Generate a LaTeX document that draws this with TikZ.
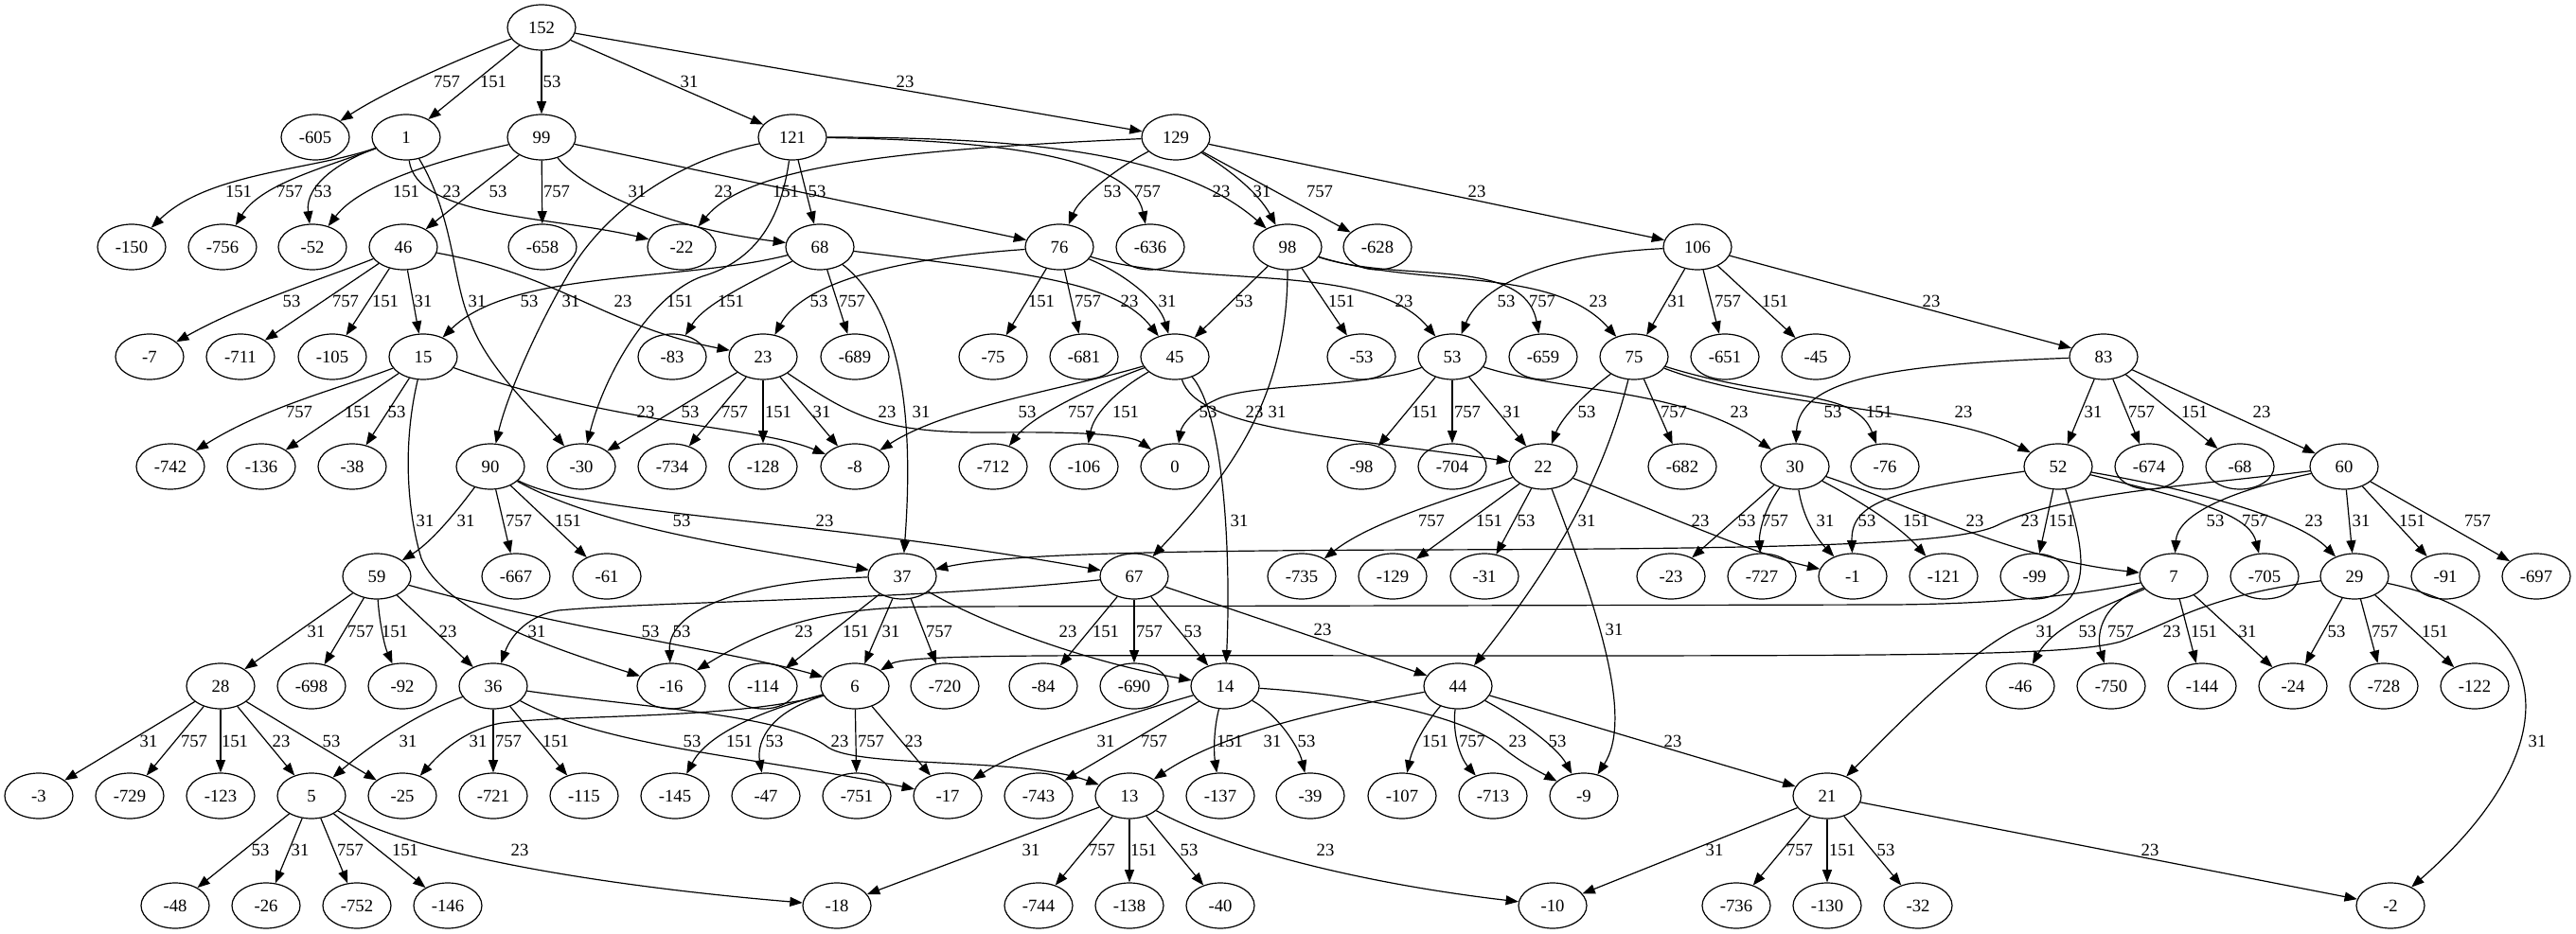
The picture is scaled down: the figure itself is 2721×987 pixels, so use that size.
\documentclass[tikz,border=0pt]{standalone}
\usepackage{fontspec}
\setmainfont{Liberation Serif}
\usetikzlibrary{arrows.meta,shapes.geometric}
\tikzset{
 nd/.style={ellipse,draw,line width=0.9pt,minimum width=54pt,minimum height=36pt,inner sep=0pt,font=\fontsize{14pt}{16pt}\selectfont},
 e/.style={draw,line width=0.9pt,-{Triangle[length=10pt,width=7.5pt]}},
 lbl/.style={inner sep=0pt,font=\fontsize{14pt}{16pt}\selectfont}
}
\newcommand\sedge[4]{\draw[e] (#1) -- (#2) node[lbl] at (#3) {#4};}
\newcommand\cedge[5]{\draw[e] (#1) .. controls #3 .. (#2) node[lbl] at (#4) {#5};}
\begin{document}
\begin{tikzpicture}[x=0.75pt,y=-0.75pt]
\fill[white] (0,0) rectangle (2721,987);
\useasboundingbox (0,0) rectangle (2721,987);
% rank 0
\node[nd] (n152) at (572,29) {152};
% rank 1
\foreach \nm/\tx/\xx in {m605/-605/333, n1/1/429, n99/99/572, n121/121/837, n129/129/1242}
  \node[nd] (\nm) at (\xx,145) {\tx};
% rank 2
\foreach \nm/\tx/\xx in {m150/-150/139, m756/-756/235, m52/-52/330, n46/46/426, m658/-658/573, m22/-22/720, n68/68/866, n76/76/1119, m636/-636/1215, n98/98/1360, m628/-628/1455, n106/106/1793}
  \node[nd] (\nm) at (\xx,261) {\tx};
% rank 3
\foreach \nm/\tx/\xx in {m7/-7/158, m711/-711/254, m105/-105/351, n15/15/447, m83/-83/710, n23/23/806, m689/-689/903, m75/-75/1049, m681/-681/1145, n45/45/1241, m53/-53/1438, n53/53/1534, m659/-659/1630, n75/75/1726, m651/-651/1822, m45/-45/1918, n83/83/2222}
  \node[nd] (\nm) at (\xx,377) {\tx};
% rank 4
\foreach \nm/\tx/\xx in {m742/-742/180, m136/-136/276, m38/-38/372, n90/90/518, m30/-30/614, m734/-734/710, m128/-128/806, m8/-8/903, m712/-712/1049, m106/-106/1145, n0/0/1241, m98/-98/1438, m704/-704/1534, n22/22/1630, m682/-682/1777, n30/30/1896, m76/-76/1991, n52/52/2174, m674/-674/2270, m68/-68/2366, n60/60/2476}
  \node[nd] (\nm) at (\xx,493) {\tx};
% rank 5
\foreach \nm/\tx/\xx in {n59/59/398, m667/-667/545, m61/-61/641, n37/37/953, n67/67/1198, m735/-735/1375, m129/-129/1471, m31/-31/1568, m23/-23/1765, m727/-727/1861, m1/-1/1957, m121/-121/2053, m99/-99/2149, n7/7/2296, m705/-705/2392, n29/29/2487, m91/-91/2583, m697/-697/2679}
  \node[nd] (\nm) at (\xx,609) {\tx};
% rank 6
\foreach \nm/\tx/\xx in {n28/28/233, m698/-698/329, m92/-92/425, n36/36/521, m16/-16/709, m114/-114/806, n6/6/903, m720/-720/998, m84/-84/1102, m690/-690/1198, n14/14/1294, n44/44/1540, m46/-46/2134, m750/-750/2230, m144/-144/2326, m24/-24/2422, m728/-728/2518, m122/-122/2614}
  \node[nd] (\nm) at (\xx,725) {\tx};
% rank 7
\foreach \nm/\tx/\xx in {m3/-3/41, m729/-729/137, m123/-123/233, n5/5/329, m25/-25/425, m721/-721/521, m115/-115/617, m145/-145/713, m47/-47/809, m751/-751/905, m17/-17/1001, m743/-743/1097, n13/13/1193, m137/-137/1289, m39/-39/1384, m107/-107/1481, m713/-713/1577, m9/-9/1673, n21/21/1930}
  \node[nd] (\nm) at (\xx,841) {\tx};
% rank 8
\foreach \nm/\tx/\xx in {m48/-48/185, m26/-26/281, m752/-752/377, m146/-146/473, m18/-18/884, m744/-744/1097, m138/-138/1193, m40/-40/1289, m10/-10/1640, m736/-736/1834, m130/-130/1930, m32/-32/2026, m2/-2/2525}
  \node[nd] (\nm) at (\xx,957) {\tx};

% ---- edges ----
% 152
\cedge{n152}{m605}{(490,60) and (410,95)}{472,86}{757}
\sedge{n152}{n1}{521,86}{151}
\sedge{n152}{n99}{583,86}{53}
\sedge{n152}{n121}{728,86}{31}
\sedge{n152}{n129}{956,86}{23}
% 1
\cedge{n1}{m150}{(330,180) and (220,182)}{252,202}{151}
\cedge{n1}{m756}{(340,178) and (275,195)}{306,202}{757}
\cedge{n1}{m52}{(360,170) and (322,195)}{341,202}{53}
\cedge{n1}{m22}{(440,230) and (580,228)}{477,202}{23}
\draw[e] (n1) .. controls (480,230) and (478,300) .. (497,340) .. controls (515,390) and (570,440) .. (m30) node[lbl] at (504,318) {31};
% 99
\cedge{n99}{m52}{(460,170) and (380,195)}{429,202}{151}
\sedge{n99}{n46}{526,202}{53}
\sedge{n99}{m658}{588,202}{757}
\cedge{n99}{n68}{(615,200) and (700,240)}{673,202}{31}
\sedge{n99}{n76}{764,202}{23}
% 121
\draw[e] (n121) .. controls (720,168) and (640,220) .. (600,290) .. controls (565,350) and (535,420) .. (n90) node[lbl] at (603,318) {31};
\sedge{n121}{n68}{863,202}{53}
\draw[e] (n121) .. controls (825,230) and (800,275) .. (742,292) .. controls (690,310) and (640,390) .. (m30) node[lbl] at (718,318) {151};
\cedge{n121}{m636}{(1050,148) and (1195,165)}{1212,202}{757}
\cedge{n121}{n98}{(1100,145) and (1250,165)}{1290,202}{23}
% 129
\cedge{n129}{m22}{(950,158) and (790,175)}{830,202}{151}
\cedge{n129}{n76}{(1175,180) and (1140,210)}{1175,202}{53}
\cedge{n129}{n98}{(1300,180) and (1330,205)}{1333,202}{31}
\sedge{n129}{m628}{1394,202}{757}
\sedge{n129}{n106}{1560,202}{23}
% 46
\cedge{n46}{m7}{(340,295) and (260,320)}{308,318}{53}
\sedge{n46}{m711}{365,318}{757}
\sedge{n46}{m105}{407,318}{151}
\sedge{n46}{n15}{447,318}{31}
\cedge{n46}{n23}{(590,290) and (640,345)}{658,318}{23}
% 68
\cedge{n68}{n15}{(720,298) and (540,285)}{559,318}{53}
\cedge{n68}{m83}{(800,295) and (745,320)}{772,318}{151}
\sedge{n68}{m689}{900,318}{757}
\cedge{n68}{n37}{(955,330) and (965,450)}{973,435}{31}
\cedge{n68}{n45}{(1100,290) and (1180,300)}{1193,318}{23}
% 76
\cedge{n76}{n23}{(960,272) and (850,295)}{865,318}{53}
\sedge{n76}{m75}{1100,318}{151}
\sedge{n76}{m681}{1149,318}{757}
\cedge{n76}{n45}{(1190,290) and (1225,320)}{1233,318}{31}
\cedge{n76}{n53}{(1260,305) and (1450,275)}{1483,318}{23}
% 98
\sedge{n98}{n45}{1314,318}{53}
\sedge{n98}{m53}{1417,318}{151}
\cedge{n98}{m659}{(1480,300) and (1610,270)}{1629,318}{757}
\cedge{n98}{n75}{(1500,305) and (1640,280)}{1688,318}{23}
\cedge{n98}{n67}{(1360,420) and (1300,500)}{1349,435}{31}
% 106
\cedge{n106}{n53}{(1640,268) and (1565,300)}{1591,318}{53}
\sedge{n106}{n75}{1771,318}{31}
\sedge{n106}{m651}{1825,318}{757}
\sedge{n106}{m45}{1875,318}{151}
\sedge{n106}{n83}{2040,318}{23}
% 15
\cedge{n15}{m742}{(360,410) and (280,430)}{316,435}{757}
\sedge{n15}{m136}{378,435}{151}
\sedge{n15}{m38}{419,435}{53}
\cedge{n15}{m8}{(650,450) and (800,450)}{682,435}{23}
\draw[e] (n15) .. controls (425,470) and (430,540) .. (445,590) .. controls (470,650) and (600,690) .. (m16) node[lbl] at (449,550) {31};
% 23
\sedge{n23}{m30}{729,435}{53}
\sedge{n23}{m734}{776,435}{757}
\sedge{n23}{m128}{822,435}{151}
\sedge{n23}{m8}{868,435}{31}
\draw[e] (n23) .. controls (900,440) and (930,458) .. (1050,457) .. controls (1150,456) and (1195,460) .. (n0) node[lbl] at (937,435) {23};
% 45
\cedge{n45}{m8}{(1130,410) and (1000,430)}{1085,435}{53}
\cedge{n45}{m712}{(1150,410) and (1090,440)}{1142,435}{757}
\cedge{n45}{m106}{(1175,415) and (1155,440)}{1189,435}{151}
\cedge{n45}{n22}{(1265,455) and (1420,462)}{1325,435}{23}
\cedge{n45}{n14}{(1295,440) and (1300,600)}{1309,550}{31}
% 53
\draw[e] (n53) .. controls (1440,410) and (1330,405) .. (1290,420) .. controls (1260,432) and (1248,450) .. (n0) node[lbl] at (1276,435) {53};
\sedge{n53}{m98}{1505,435}{151}
\sedge{n53}{m704}{1550,435}{757}
\sedge{n53}{n22}{1597,435}{31}
\cedge{n53}{n30}{(1650,415) and (1780,410)}{1837,435}{23}
% 75
\cedge{n75}{n22}{(1668,420) and (1648,445)}{1676,435}{53}
\sedge{n75}{m682}{1768,435}{757}
\cedge{n75}{m76}{(1880,425) and (1960,410)}{1985,435}{151}
\cedge{n75}{n44}{(1690,520) and (1630,610)}{1676,550}{31}
\cedge{n75}{n52}{(1870,432) and (2050,430)}{2074,435}{23}
% 83
\cedge{n83}{n30}{(2000,385) and (1900,400)}{1936,435}{53}
\sedge{n83}{n52}{2211,435}{31}
\sedge{n83}{m674}{2262,435}{757}
\sedge{n83}{m68}{2318,435}{151}
\sedge{n83}{n60}{2389,435}{23}
% 90
\cedge{n90}{n59}{(490,530) and (460,570)}{492,550}{31}
\sedge{n90}{m667}{548,550}{757}
\sedge{n90}{m61}{600,550}{151}
\cedge{n90}{n37}{(640,560) and (800,580)}{720,550}{53}
\cedge{n90}{n67}{(620,545) and (860,548)}{871,550}{23}
% 22
\cedge{n22}{m735}{(1540,525) and (1450,550)}{1512,550}{757}
\sedge{n22}{m129}{1573,550}{151}
\sedge{n22}{m31}{1612,550}{53}
\cedge{n22}{m9}{(1690,650) and (1725,760)}{1705,665}{31}
\cedge{n22}{m1}{(1750,540) and (1850,585)}{1796,550}{23}
% 30
\sedge{n30}{m23}{1845,550}{53}
\cedge{n30}{m727}{(1862,540) and (1858,565)}{1875,550}{757}
\cedge{n30}{m1}{(1905,550) and (1920,570)}{1928,550}{31}
\cedge{n30}{m121}{(1975,535) and (2010,560)}{2024,550}{151}
\cedge{n30}{n7}{(2010,530) and (2120,590)}{2086,550}{23}
% 52
\cedge{n52}{m1}{(2000,518) and (1955,530)}{1972,550}{53}
\sedge{n52}{m99}{2178,550}{151}
\cedge{n52}{m705}{(2300,525) and (2375,540)}{2382,550}{757}
\cedge{n52}{n29}{(2330,520) and (2430,550)}{2444,550}{23}
\draw[e] (n52) .. controls (2215,620) and (2195,638) .. (2140,660) .. controls (2085,682) and (2000,770) .. (n21) node[lbl] at (2160,667) {31};
% 60
\draw[e] (n60) .. controls (2330,512) and (2180,520) .. (2110,555) .. controls (2070,575) and (1900,580) .. (1500,581) .. controls (1200,582) and (1060,586) .. (n37) node[lbl] at (2144,550) {23};
\cedge{n60}{n7}{(2350,520) and (2300,545)}{2340,550}{53}
\sedge{n60}{n29}{2494,550}{31}
\sedge{n60}{m91}{2548,550}{151}
\sedge{n60}{m697}{2617,550}{757}
% 59
\sedge{n59}{n28}{334,667}{31}
\sedge{n59}{m698}{381,667}{757}
\cedge{n59}{m92}{(400,650) and (405,680)}{417,667}{151}
\sedge{n59}{n36}{473,667}{23}
\cedge{n59}{n6}{(600,665) and (780,690)}{687,667}{53}
% 37
\cedge{n37}{m16}{(800,613) and (705,640)}{720,667}{53}
\sedge{n37}{m114}{904,667}{151}
\sedge{n37}{n6}{941,667}{31}
\sedge{n37}{m720}{992,667}{757}
\cedge{n37}{n14}{(1040,660) and (1150,700)}{1128,667}{23}
% 67
\draw[e] (n67) .. controls (950,635) and (700,635) .. (590,645) .. controls (560,650) and (540,670) .. (n36) node[lbl] at (567,667) {31};
\sedge{n67}{m84}{1168,667}{151}
\sedge{n67}{m690}{1214,667}{757}
\sedge{n67}{n14}{1260,667}{53}
\sedge{n67}{n44}{1397,665}{23}
% 7
\draw[e] (n7) .. controls (2200,628) and (2120,638) .. (2000,639) -- (1000,641) .. controls (900,641) and (830,650) .. (m16) node[lbl] at (849,667) {23};
\cedge{n7}{m46}{(2225,640) and (2170,660)}{2205,667}{53}
\cedge{n7}{m750}{(2215,640) and (2215,675)}{2240,667}{757}
\sedge{n7}{m144}{2328,667}{151}
\sedge{n7}{m24}{2374,667}{31}
% 29
\draw[e] (n29) .. controls (2330,630) and (2300,655) .. (2240,678) .. controls (2190,692) and (2050,693) .. (1600,693) .. controls (1150,693) and (960,690) .. (n6) node[lbl] at (2294,667) {23};
\sedge{n29}{m24}{2468,667}{53}
\sedge{n29}{m728}{2519,667}{757}
\sedge{n29}{m122}{2572,667}{151}
\cedge{n29}{m2}{(2705,655) and (2715,790)}{2680,783}{31}
% 28
\sedge{n28}{m3}{157,783}{31}
\sedge{n28}{m729}{205,783}{757}
\sedge{n28}{m123}{248,783}{151}
\sedge{n28}{n5}{297,783}{23}
\sedge{n28}{m25}{350,783}{53}
% 36
\cedge{n36}{n5}{(450,750) and (400,780)}{431,783}{31}
\sedge{n36}{m721}{537,783}{757}
\sedge{n36}{m115}{587,783}{151}
\cedge{n36}{m17}{(640,790) and (800,800)}{731,783}{53}
\draw[e] (n36) .. controls (680,748) and (830,755) .. (875,790) .. controls (910,812) and (1080,800) .. (n13) node[lbl] at (887,783) {23};
% 6
\draw[e] (n6) .. controls (780,760) and (600,755) .. (530,764) .. controls (495,770) and (470,790) .. (m25) node[lbl] at (505,783) {31};
\cedge{n6}{m145}{(790,755) and (745,780)}{781,783}{151}
\cedge{n6}{m47}{(805,755) and (800,790)}{818,783}{53}
\sedge{n6}{m751}{920,783}{757}
\sedge{n6}{m17}{965,783}{23}
% 14
\cedge{n14}{m17}{(1180,758) and (1080,790)}{1168,783}{31}
\sedge{n14}{m743}{1219,783}{757}
\cedge{n14}{m137}{(1282,770) and (1282,795)}{1299,783}{151}
\cedge{n14}{m39}{(1350,755) and (1372,790)}{1380,783}{53}
\draw[e] (n14) .. controls (1450,735) and (1550,760) .. (1585,788) .. controls (1605,805) and (1625,815) .. (m9) node[lbl] at (1603,783) {23};
% 44
\cedge{n44}{n13}{(1400,750) and (1290,775)}{1344,783}{31}
\cedge{n44}{m107}{(1505,765) and (1492,790)}{1516,783}{151}
\cedge{n44}{m713}{(1534,775) and (1542,800)}{1555,783}{757}
\cedge{n44}{m9}{(1605,760) and (1645,790)}{1645,783}{53}
\sedge{n44}{n21}{1767,783}{23}
% 5
\sedge{n5}{m48}{275,898}{53}
\sedge{n5}{m26}{317,898}{31}
\sedge{n5}{m752}{370,898}{757}
\sedge{n5}{m146}{428,898}{151}
\cedge{n5}{m18}{(450,910) and (680,940)}{549,898}{23}
% 13
\sedge{n13}{m18}{1089,898}{31}
\sedge{n13}{m744}{1164,898}{757}
\sedge{n13}{m138}{1208,898}{151}
\sedge{n13}{m40}{1256,898}{53}
\cedge{n13}{m10}{(1300,900) and (1450,935)}{1400,898}{23}
% 21
\sedge{n21}{m10}{1811,898}{31}
\sedge{n21}{m736}{1901,898}{757}
\sedge{n21}{m130}{1946,898}{151}
\sedge{n21}{m32}{1992,898}{53}
\sedge{n21}{m2}{2271,898}{23}
\end{tikzpicture}
\end{document}
